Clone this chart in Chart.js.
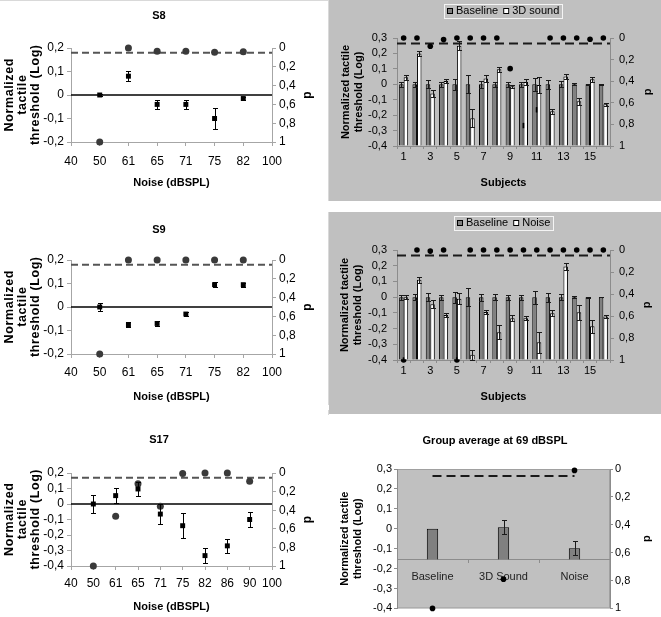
<!DOCTYPE html>
<html>
<head>
<meta charset="utf-8">
<script src="https://cdn.jsdelivr.net/npm/chart.js@4.4.1/dist/chart.umd.min.js"></script>
<style>
    body { margin: 0; background: #fff; }
    #page { position: relative; width: 661px; height: 617px; overflow: hidden; }
    #page canvas { position: absolute; }
    .frame { position: absolute; background: #d9d9d9; }
</style>
</head>
<body>
<div id="page">
    <div class="frame" style="left:0;top:0;width:328px;height:1px"></div>
    <div class="frame" style="left:328px;top:0;width:1px;height:201px"></div>
    <div class="frame" style="left:328px;top:212px;width:1px;height:193px"></div>
    <div class="frame" style="left:328px;top:410px;width:1px;height:5px"></div>

    <canvas id="s8Chart" width="328" height="201" style="left:0;top:0"></canvas>
    <canvas id="s9Chart" width="328" height="205" style="left:0;top:205px"></canvas>
    <canvas id="s17Chart" width="328" height="207" style="left:0;top:410px"></canvas>
    <canvas id="soundChart" width="332" height="201" style="left:329px;top:0"></canvas>
    <canvas id="noiseChart" width="332" height="202" style="left:329px;top:212px"></canvas>
    <canvas id="groupChart" width="332" height="203" style="left:329px;top:414px"></canvas>
</div>

<script>
// ---- data ----

// noise levels (dBSPL) used for the single subject plots
const noiseLevelsShort = ['40', '50', '61', '65', '71', '75', '82', '100'];
const noiseLevelsLong = ['40', '50', '61', '65', '71', '75', '82', '86', '90', '100'];

// S8
const s8Threshold = [null, 0, 0.08, -0.04, -0.04, -0.10, -0.015, null];
const s8Error = [null, 0.005, 0.022, 0.02, 0.02, 0.045, 0.008, null];
const s8P = [null, 1, 0, 0.035, 0.035, 0.045, 0.04, null];

// S9
const s9Threshold = [null, 0, -0.075, -0.07, -0.03, 0.095, 0.095, null];
const s9Error = [null, 0.015, 0.01, 0.01, 0.01, 0.01, 0.008, null];
const s9P = [null, 1, 0, 0, 0, 0, 0, null];

// S17
const s17Threshold = [null, 0, 0.054, 0.097, -0.065, -0.14, -0.333, -0.27, -0.10, null];
const s17Error = [null, 0.06, 0.05, 0.045, 0.065, 0.08, 0.05, 0.045, 0.048, null];
const s17P = [null, 1, 0.466, 0.115, 0.358, 0.005, 0, 0, 0.09, null];

// subjects 1..16
const subjects = ['1', '2', '3', '4', '5', '6', '7', '8', '9', '10', '11', '12', '13', '14', '15', '16'];
const baselineThreshold = [0, 0, 0, 0, 0, 0, 0, 0, 0, 0, 0, 0, 0, 0, 0, 0];
const baselineError = [0.015, 0.017, 0.027, 0.015, 0.035, 0.058, 0.022, 0.017, 0.016, 0.016, 0.042, 0.028, 0.02, 0.006, 0.004, 0.002];

const sound3D = [0.045, 0.2, -0.06, 0.022, 0.25, -0.22, 0.037, 0.097, -0.013, 0.015, -0.005, -0.175, 0.05, -0.11, 0.032, -0.13];
const sound3DError = [0.014, 0.018, 0.024, 0.013, 0.03, 0.057, 0.022, 0.018, 0.01, 0.02, 0.05, 0.018, 0.015, 0.024, 0.015, 0.01];
const sound3DP = [0, 0, 0.077, 0.015, 0, 0, 0, 0, 0.284, 0.81, 0.664, 0, 0, 0, 0.012, 0];

const noise = [0, 0.11, -0.045, -0.113, -0.01, -0.367, -0.095, -0.223, -0.134, -0.134, -0.287, -0.102, 0.195, -0.096, -0.185, -0.123];
const noiseError = [0.012, 0.021, 0.025, 0.015, 0.036, 0.033, 0.015, 0.045, 0.018, 0.012, 0.068, 0.02, 0.02, 0.047, 0.042, 0.01];
const noiseP = [1, 0, 0.01, 0, 1, 0, 0, 0, 0, 0, 0, 0, 0, 0, 0, 0];

// group average at 69 dBSPL
const groupLabels = ['Baseline', '3D Sound', 'Noise'];
const groupThreshold = [0, 0.007, -0.098];
const groupError = [0, 0.035, 0.034];
const groupP = [1, 0.79, 0.01];
const groupAxisCross = -0.155; // where the category axis crosses the value axis

const pThreshold = 0.05; // dashed significance line
const pTicks = [0, 0.2, 0.4, 0.6, 0.8, 1];

// ---- shared setup ----
const FONT = "'Liberation Sans', Arial, sans-serif";
Chart.defaults.font.family = FONT;
Chart.defaults.font.size = 12;
Chart.defaults.color = '#000';
Chart.defaults.animation = false;
Chart.defaults.responsive = false;
Chart.defaults.devicePixelRatio = 1;
Chart.defaults.plugins.legend.display = false;
Chart.defaults.plugins.tooltip.enabled = false;

// 0.2 -> "0,2"
function commaTick(value) {
    const v = Math.round(value * 10) / 10;
    return String(v).replace('.', ',');
}

function usePTicks(scale) {
    scale.ticks = pTicks.map(v => ({ value: v }));
}

// fills the whole canvas and / or the plot area
const panelBackground = {
    id: 'panelBackground',
    beforeDraw(chart, args, opts) {
        const ctx = chart.ctx;
        const a = chart.chartArea;
        ctx.save();
        if (opts.canvas) {
            ctx.fillStyle = opts.canvas;
            ctx.fillRect(0, 0, chart.width, chart.height);
        }
        if (opts.area) {
            ctx.fillStyle = opts.area;
            ctx.fillRect(a.left, a.top, a.right - a.left, a.bottom - a.top);
            if (opts.areaBorder) {
                ctx.strokeStyle = opts.areaBorder;
                ctx.lineWidth = 1;
                ctx.strokeRect(a.left + 0.5, a.top + 0.5, a.right - a.left - 1, a.bottom - a.top - 1);
            }
        }
        ctx.restore();
    }
};

// horizontal reference lines (zero line, p = 0.05)
const refLines = {
    id: 'refLines',
    beforeDatasetsDraw(chart, args, opts) {
        if (!opts.lines) return;
        const ctx = chart.ctx;
        opts.lines.forEach(function(line) {
            const y = chart.scales[line.axis].getPixelForValue(line.value);
            let x1 = chart.chartArea.left;
            let x2 = chart.chartArea.right;
            if (line.centers) {
                const xs = chart.scales.x;
                x1 = xs.getPixelForValue(0);
                x2 = xs.getPixelForValue(chart.data.labels.length - 1);
            }
            ctx.save();
            ctx.strokeStyle = line.color;
            ctx.lineWidth = line.width;
            ctx.setLineDash(line.dash || []);
            ctx.beginPath();
            ctx.moveTo(x1, y);
            ctx.lineTo(x2, y);
            ctx.stroke();
            ctx.restore();
        });
    }
};

// +/- error bars from dataset.errors
const errorBars = {
    id: 'errorBars',
    afterDatasetsDraw(chart, args, opts) {
        if (!opts.cap) return;
        const ctx = chart.ctx;
        chart.data.datasets.forEach(function(ds, i) {
            if (!ds.errors) return;
            const meta = chart.getDatasetMeta(i);
            const scale = chart.scales[meta.yAxisID];
            ctx.save();
            ctx.strokeStyle = opts.color;
            ctx.lineWidth = 1;
            meta.data.forEach(function(el, j) {
                const v = ds.data[j];
                const e = ds.errors[j];
                if (v === null || !e) return;
                const x = Math.round(el.x) + 0.5;
                const y1 = Math.round(scale.getPixelForValue(v + e)) + 0.5;
                const y2 = Math.round(scale.getPixelForValue(v - e)) + 0.5;
                ctx.beginPath();
                ctx.moveTo(x, y1); ctx.lineTo(x, y2);
                ctx.moveTo(x - opts.cap, y1); ctx.lineTo(x + opts.cap, y1);
                ctx.moveTo(x - opts.cap, y2); ctx.lineTo(x + opts.cap, y2);
                ctx.stroke();
            });
            ctx.restore();
        });
    }
};

// small framed legend for the bar datasets
const framedLegend = {
    id: 'framedLegend',
    afterDraw(chart, args, opts) {
        if (!opts.x) return;
        const ctx = chart.ctx;
        const items = chart.data.datasets.filter(ds => ds.type !== 'line');
        ctx.save();
        ctx.font = '11px ' + FONT;
        const box = 6, gap = 3, space = 5, pad = 3, h = 14;
        const widths = items.map(ds => ctx.measureText(ds.label).width);
        const total = pad * 2 + widths.reduce((s, w) => s + box + gap + w, 0) + space * (items.length - 1);
        let x = Math.round(opts.x - total / 2);
        const top = Math.round(opts.y - h / 2);
        ctx.strokeStyle = opts.border;
        ctx.lineWidth = 1;
        ctx.strokeRect(x + 0.5, top + 0.5, Math.round(total), h);
        x += pad;
        items.forEach(function(ds, i) {
            const by = Math.round(opts.y - box / 2);
            ctx.fillStyle = ds.backgroundColor;
            ctx.fillRect(x, by, box, box);
            ctx.strokeStyle = '#000';
            ctx.strokeRect(x + 0.5, by + 0.5, box - 1, box - 1);
            ctx.fillStyle = '#000';
            ctx.textBaseline = 'middle';
            ctx.fillText(ds.label, x + box + gap, opts.y + 0.5);
            x += box + gap + widths[i] + space;
        });
        ctx.restore();
    }
};

// vertical axis titles reading bottom-to-top (optionally letter spaced)
const sideTitles = {
    id: 'sideTitles',
    afterDraw(chart, args, opts) {
        if (!opts.items) return;
        const ctx = chart.ctx;
        const a = chart.chartArea;
        opts.items.forEach(function(t) {
            ctx.save();
            ctx.translate(t.x, (a.top + a.bottom) / 2);
            ctx.rotate(-Math.PI / 2);
            ctx.font = 'bold ' + t.size + 'px ' + FONT;
            if ('letterSpacing' in ctx) ctx.letterSpacing = (t.spacing || 0) + 'px';
            ctx.textAlign = 'center';
            ctx.textBaseline = 'middle';
            ctx.fillStyle = '#000';
            t.lines.forEach(function(line, i) {
                ctx.fillText(line, (t.spacing || 0) / 2, i * (t.lineGap || 0));
            });
            ctx.restore();
        });
    }
};

Chart.register(panelBackground, refLines, errorBars, framedLegend, sideTitles);

// ---- single subject panels (threshold vs noise level) ----
function subjectNoisePanel(id, title, labels, threshold, errors, pValues, yMin, box) {
    const axisGrey = '#a6a6a6';
    new Chart(document.getElementById(id), {
        type: 'line',
        data: {
            labels: labels,
            datasets: [
                {
                    label: 'Threshold',
                    data: threshold,
                    errors: errors,
                    yAxisID: 'y',
                    showLine: false,
                    pointStyle: 'rect',
                    pointRadius: 3.5,
                    pointBackgroundColor: '#000',
                    pointBorderWidth: 0,
                    clip: false
                },
                {
                    label: 'p',
                    data: pValues,
                    yAxisID: 'p',
                    showLine: false,
                    pointStyle: 'circle',
                    pointRadius: 3.5,
                    pointBackgroundColor: '#3a3a3a',
                    pointBorderWidth: 0,
                    clip: false
                }
            ]
        },
        options: {
            layout: { padding: { right: 10 } },
            plugins: {
                title: {
                    display: true,
                    text: title,
                    font: { size: 11, weight: 'bold' },
                    padding: { top: box.titleTop, bottom: box.titleBottom }
                },
                refLines: {
                    lines: [
                        { axis: 'y', value: 0, color: '#000', width: 1.6 },
                        { axis: 'p', value: pThreshold, color: '#555', width: 2, dash: [7, 4] }
                    ]
                },
                errorBars: { cap: 2.5, color: '#000' },
                sideTitles: {
                    items: [
                        { lines: ['Normalized', 'tactile', 'threshold (Log)'], x: 10, lineGap: 12.6, size: 12.5, spacing: 0.6 },
                        { lines: ['p'], x: 307.5, size: 12 }
                    ]
                }
            },
            scales: {
                x: {
                    offset: false,
                    afterFit: s => { s.height = box.xHeight; },
                    grid: { offset: false, drawOnChartArea: false, tickLength: 4, color: axisGrey },
                    border: { color: axisGrey },
                    ticks: { autoSkip: false, maxRotation: 0, padding: box.xTickPad, font: { size: 12 } },
                    title: {
                        display: true,
                        text: 'Noise (dBSPL)',
                        font: { size: 11, weight: 'bold' },
                        padding: { top: 0, bottom: box.xTitlePad }
                    }
                },
                y: {
                    position: 'left',
                    min: yMin,
                    max: 0.2,
                    afterFit: s => { s.width = 71; },
                    grid: { drawOnChartArea: false, tickLength: 4, color: axisGrey },
                    border: { color: axisGrey },
                    ticks: { autoSkip: false, stepSize: 0.1, callback: commaTick, padding: 3, font: { size: 12 } }
                },
                p: {
                    position: 'right',
                    reverse: true,
                    min: 0,
                    max: 1,
                    afterFit: s => { s.width = 46; },
                    afterBuildTicks: usePTicks,
                    grid: { drawOnChartArea: false, tickLength: 4, color: axisGrey },
                    border: { color: axisGrey },
                    ticks: { autoSkip: false, callback: commaTick, padding: 3, font: { size: 12 } }
                }
            }
        }
    });
}

subjectNoisePanel('s8Chart', 'S8', noiseLevelsShort, s8Threshold, s8Error, s8P, -0.2,
    { titleTop: 9.4, titleBottom: 25.4, xHeight: 59, xTickPad: 8.8, xTitlePad: 11.4 });
subjectNoisePanel('s9Chart', 'S9', noiseLevelsShort, s9Threshold, s9Error, s9P, -0.2,
    { titleTop: 18.4, titleBottom: 23.4, xHeight: 56, xTickPad: 7.8, xTitlePad: 6.4 });
subjectNoisePanel('s17Chart', 'S17', noiseLevelsLong, s17Threshold, s17Error, s17P, -0.4,
    { titleTop: 23.4, titleBottom: 26.4, xHeight: 51, xTickPad: 6.8, xTitlePad: 3.4 });

// ---- per subject bar panels (baseline vs condition) ----
function conditionPanel(id, condLabel, condValues, condErrors, pValues, box) {
    const axisGrey = '#8c8c8c';
    new Chart(document.getElementById(id), {
        type: 'bar',
        data: {
            labels: subjects,
            datasets: [
                {
                    label: 'Baseline',
                    data: baselineThreshold,
                    errors: baselineError,
                    base: -0.4,
                    backgroundColor: '#808080',
                    borderColor: '#000',
                    borderWidth: 1,
                    categoryPercentage: 0.68,
                    barPercentage: 1.0
                },
                {
                    label: condLabel,
                    data: condValues,
                    errors: condErrors,
                    base: -0.4,
                    backgroundColor: '#fff',
                    borderColor: '#000',
                    borderWidth: 1,
                    categoryPercentage: 0.68,
                    barPercentage: 1.0
                },
                {
                    type: 'line',
                    label: 'p',
                    data: pValues,
                    yAxisID: 'p',
                    showLine: false,
                    pointStyle: 'circle',
                    pointRadius: 2.8,
                    pointBackgroundColor: '#000',
                    pointBorderWidth: 0,
                    clip: false
                }
            ]
        },
        options: {
            layout: { padding: { top: 38 } },
            plugins: {
                panelBackground: { canvas: '#c0c0c0' },
                refLines: {
                    lines: [{ axis: 'p', value: pThreshold, color: '#1a1a1a', width: 2, dash: [9, 5] }]
                },
                errorBars: { cap: 2.5, color: '#1a1a1a' },
                framedLegend: { x: box.legendX, y: box.legendY, border: '#f4f4f4' },
                sideTitles: { items: [{ lines: ['p'], x: box.pTitleX, size: 11 }] }
            },
            scales: {
                x: {
                    afterFit: s => { s.height = box.xHeight; },
                    grid: { drawOnChartArea: false, tickLength: 3, color: axisGrey },
                    border: { color: axisGrey },
                    ticks: {
                        autoSkip: false,
                        maxRotation: 0,
                        padding: box.xTickPad,
                        font: { size: 11 },
                        callback: function(value, index) {
                            return index % 2 === 0 ? this.getLabelForValue(value) : '';
                        }
                    },
                    title: {
                        display: true,
                        text: 'Subjects',
                        font: { size: 11, weight: 'bold' },
                        padding: { top: 0, bottom: box.xTitlePad }
                    }
                },
                y: {
                    position: 'left',
                    min: -0.4,
                    max: 0.3,
                    afterFit: s => { s.width = 68; },
                    grid: { drawOnChartArea: false, tickLength: 4, color: axisGrey },
                    border: { color: axisGrey },
                    ticks: { autoSkip: false, stepSize: 0.1, callback: commaTick, padding: 6, font: { size: 11 } },
                    title: {
                        display: true,
                        text: ['Normalized tactile', 'threshold (Log)'],
                        font: { size: 11, weight: 'bold' },
                        padding: { top: box.yTitlePad, bottom: 0 }
                    }
                },
                p: {
                    position: 'right',
                    reverse: true,
                    min: 0,
                    max: 1,
                    afterFit: s => { s.width = 51; },
                    afterBuildTicks: usePTicks,
                    grid: { drawOnChartArea: false, tickLength: 4, color: axisGrey },
                    border: { color: axisGrey },
                    ticks: { autoSkip: false, callback: commaTick, padding: 5, font: { size: 11 } }
                }
            }
        }
    });
}

conditionPanel('soundChart', '3D sound', sound3D, sound3DError, sound3DP,
    { xHeight: 55, xTickPad: 1, xTitlePad: 11.7, yTitlePad: 10, pTitleX: 319, legendX: 174.5, legendY: 10.7 });
conditionPanel('noiseChart', 'Noise', noise, noiseError, noiseP,
    { xHeight: 54, xTickPad: 1.4, xTitlePad: 10.4, yTitlePad: 9.4, pTitleX: 318, legendX: 175, legendY: 10.5 });

// ---- group average ----
new Chart(document.getElementById('groupChart'), {
    type: 'bar',
    data: {
        labels: groupLabels,
        datasets: [
            {
                label: 'Group average',
                data: groupThreshold,
                errors: groupError,
                base: groupAxisCross,
                backgroundColor: '#808080',
                borderColor: '#000',
                borderWidth: 1,
                categoryPercentage: 0.16,
                barPercentage: 1.0
            },
            {
                type: 'line',
                label: 'p',
                data: groupP,
                yAxisID: 'p',
                showLine: false,
                pointStyle: 'circle',
                pointRadius: 2.8,
                pointBackgroundColor: '#000',
                pointBorderWidth: 0,
                clip: false
            }
        ]
    },
    options: {
        layout: { padding: { bottom: 7 } },
        plugins: {
            title: {
                display: true,
                text: 'Group average at 69 dBSPL',
                font: { size: 11, weight: 'bold' },
                padding: { top: 20.4, bottom: 21.4 }
            },
            panelBackground: { area: '#c0c0c0', areaBorder: '#a0a0a0' },
            refLines: {
                lines: [{ axis: 'p', value: pThreshold, color: '#1a1a1a', width: 2, dash: [9, 5], centers: true }]
            },
            errorBars: { cap: 2.5, color: '#1a1a1a' },
            sideTitles: { items: [{ lines: ['p'], x: 318, size: 11 }] }
        },
        scales: {
            x: {
                position: { y: groupAxisCross },
                grid: { drawOnChartArea: false, tickLength: 3, color: '#8c8c8c' },
                border: { color: '#8c8c8c' },
                ticks: { autoSkip: false, maxRotation: 0, padding: 8, font: { size: 11 }, color: '#222' }
            },
            y: {
                position: 'left',
                min: -0.4,
                max: 0.3,
                afterFit: s => { s.width = 68; },
                grid: { drawOnChartArea: false, tickLength: 3, color: '#8c8c8c' },
                border: { color: '#8c8c8c' },
                ticks: { autoSkip: false, stepSize: 0.1, callback: commaTick, padding: 2, font: { size: 11 } },
                title: {
                    display: true,
                    text: ['Normalized tactile', 'threshold (Log)'],
                    font: { size: 11, weight: 'bold' },
                    padding: { top: 9.4, bottom: 0 }
                }
            },
            p: {
                position: 'right',
                reverse: true,
                min: 0,
                max: 1,
                afterFit: s => { s.width = 51; },
                afterBuildTicks: usePTicks,
                grid: { drawOnChartArea: false, tickLength: 3, color: '#8c8c8c' },
                border: { color: '#8c8c8c' },
                ticks: { autoSkip: false, callback: commaTick, padding: 2, font: { size: 11 } }
            }
        }
    }
});
</script>
</body>
</html>
